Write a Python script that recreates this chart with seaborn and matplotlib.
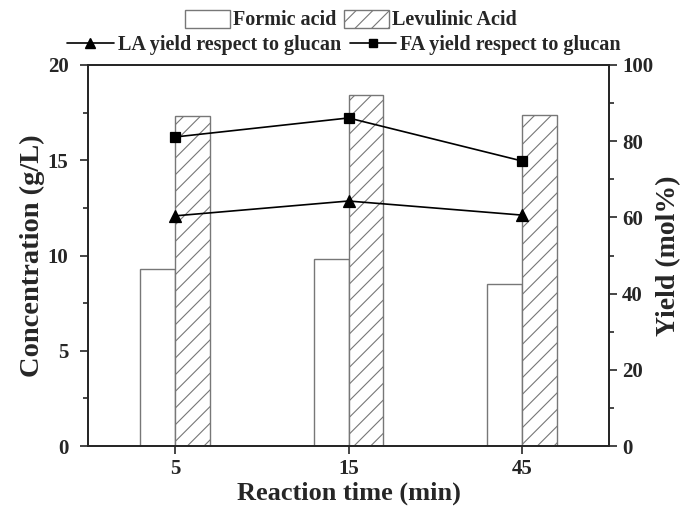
import matplotlib
matplotlib.use("Agg")
import matplotlib.pyplot as plt
import seaborn as sns
import pandas as pd
import numpy as np
from matplotlib.patches import Patch
from matplotlib.lines import Line2D
from matplotlib.ticker import MultipleLocator

times = ["5", "15", "45"]
formic = [9.3, 9.8, 8.5]
levulinic = [17.3, 18.4, 17.4]
la_yield = [60.4, 64.3, 60.6]
fa_yield = [81.1, 86.1, 74.8]

sns.set_style("ticks")
plt.rcParams['font.family'] = ['Liberation Serif', 'DejaVu Serif']
plt.rcParams['font.weight'] = 'bold'
plt.rcParams['hatch.linewidth'] = 0.8
plt.rcParams['hatch.color'] = '#555555'

df = pd.DataFrame({
    "time": times * 2,
    "conc": formic + levulinic,
    "acid": ["Formic acid"] * 3 + ["Levulinic Acid"] * 3,
})

fig = plt.figure(figsize=(6.81, 5.17), dpi=100)
ax = fig.add_axes([88/681, 1-446/517, (609-88)/681, (446-65)/517])

sns.barplot(data=df, x="time", y="conc", hue="acid", order=times,
            hue_order=["Formic acid", "Levulinic Acid"], width=0.4,
            palette=["white", "white"], edgecolor="#777777", linewidth=1.0,
            legend=False, ax=ax, errorbar=None)
n = len(times)
for i, p in enumerate(ax.patches):
    if i >= n:
        p.set_hatch("//")

ax.set_ylim(0, 20)
ax.set_xlim(-0.5, 2.5)
ax.yaxis.set_major_locator(MultipleLocator(5))
ax.yaxis.set_minor_locator(MultipleLocator(2.5))
ax.tick_params(axis='y', which='major', length=6, width=1.2, labelsize=15, pad=8)
ax.tick_params(axis='y', which='minor', length=3.5, width=1.2)
ax.tick_params(axis='x', length=6, width=1.2, labelsize=15)
ax.set_xlabel("Reaction time (min)", fontsize=19, fontweight='bold', labelpad=2)
ax.set_ylabel("Concentration (g/L)", fontsize=20.5, fontweight='bold', labelpad=2)
for s in ax.spines.values():
    s.set_linewidth(1.3)
    s.set_visible(True)

ax2 = ax.twinx()
sns.pointplot(x=times, y=la_yield, order=times, color="black", markers="^",
              linestyles="-", ax=ax2, markersize=8, linewidth=1.2, errorbar=None)
sns.pointplot(x=times, y=fa_yield, order=times, color="black", markers="s",
              linestyles="-", ax=ax2, markersize=7, linewidth=1.2, errorbar=None)
ax2.set_ylim(0, 100)
ax2.set_xlim(-0.5, 2.5)
ax2.yaxis.set_major_locator(MultipleLocator(20))
ax2.yaxis.set_minor_locator(MultipleLocator(10))
ax2.tick_params(axis='y', which='major', length=6, width=1.2, labelsize=15)
ax2.tick_params(axis='y', which='minor', length=3.5, width=1.2)
ax2.set_ylabel("Yield (mol%)", fontsize=20, fontweight='bold', labelpad=2)
for s in ax2.spines.values():
    s.set_linewidth(1.3)
    s.set_visible(True)
for lab in ax.get_xticklabels() + ax.get_yticklabels() + ax2.get_yticklabels():
    lab.set_fontweight('bold')

bar_handles = [Patch(facecolor="white", edgecolor="#777777", label="Formic acid"),
               Patch(facecolor="white", edgecolor="#777777", hatch="//", label="Levulinic Acid")]
leg1 = fig.legend(handles=bar_handles, loc="center", bbox_to_anchor=(351/681, 1-20/517),
                  ncol=2, frameon=False, handlelength=2.25, handleheight=1.0,
                  columnspacing=0.35, handletextpad=0.15, borderpad=0.0,
                  prop={'weight': 'bold', 'size': 14.5})
line_handles = [Line2D([], [], color="black", marker="^", markersize=7, lw=1.2,
                       label="LA yield respect to glucan"),
                Line2D([], [], color="black", marker="s", markersize=5.5, lw=1.2,
                       label="FA yield respect to glucan")]
leg2 = fig.legend(handles=line_handles, loc="center", bbox_to_anchor=(344/681, 1-45/517),
                  ncol=2, frameon=False, handlelength=2.3,
                  columnspacing=0.45, handletextpad=0.2, borderpad=0.0,
                  prop={'weight': 'bold', 'size': 14.5})

fig.savefig("out.png", dpi=100)
